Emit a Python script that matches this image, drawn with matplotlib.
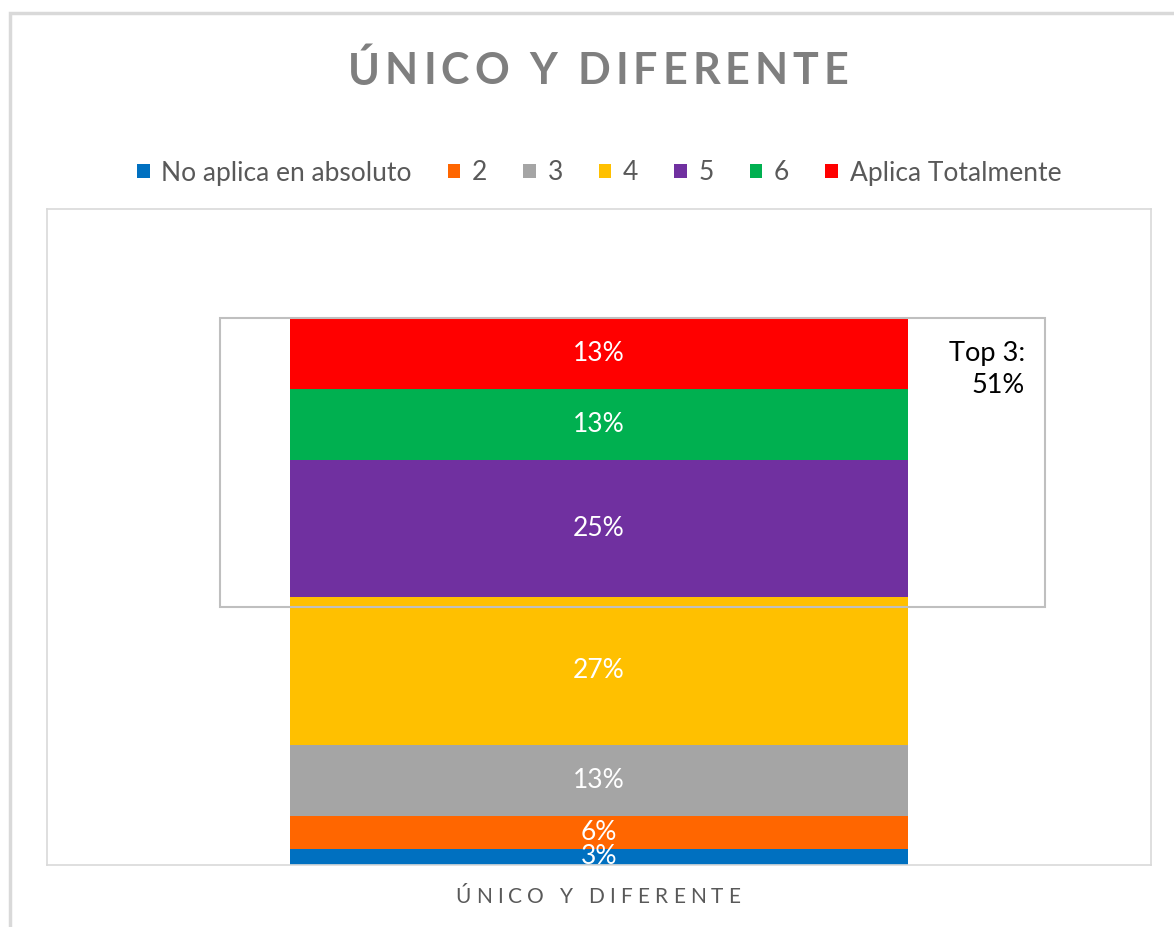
import matplotlib.pyplot as plt
from matplotlib.patches import Rectangle
import numpy as np

plt.rcParams['font.family'] = ['Lato', 'DejaVu Sans']

# data
categories = ["No aplica en absoluto", "2", "3", "4", "5", "6", "Aplica Totalmente"]
values = [3, 6, 13, 27, 25, 13, 13]
colors = ['#0070C0', '#FF6600', '#A5A5A5', '#FFC000', '#7030A0', '#00B050', '#FF0000']
bar_label = "ÚNICO Y DIFERENTE"
chart_title = "ÚNICO Y DIFERENTE"
top3_text = "Top 3:\n51%"

W, H = 1174, 927
fig = plt.figure(figsize=(W / 100, H / 100), dpi=100)
ax = fig.add_axes([47/W, 1 - 865/H, 1104/W, 656/H])
renderer = fig.canvas.get_renderer()


def spaced_text(xc, y, s, target_width, **kw):
    # draw text char by char to imitate the wide letter spacing
    def width(txt):
        t = fig.text(0, 0, txt, **kw)
        w = t.get_window_extent(renderer).width
        t.remove()
        return w
    full = width(s)
    gap = (target_width - full) / (len(s) - 1)
    x0 = xc - target_width / 2
    for i, ch in enumerate(s):
        if ch == ' ':
            continue
        left = width(s[:i + 1]) - width(ch) + i * gap
        fig.text((x0 + left) / W, 1 - y / H, ch, ha='left', va='center', **kw)


bottom = 0
for cat, val, col in zip(categories, values, colors):
    ax.bar(0, val, width=0.56, bottom=bottom, color=col, label=cat)
    ax.text(0, bottom + val / 2, f"{val}%", ha='center', va='center',
            color='white', fontsize=19, clip_on=True)
    bottom += val

ax.set_xlim(-0.5, 0.5)
ax.set_ylim(0, 120)
ax.set_xticks([])
ax.set_yticks([])
for s in ax.spines.values():
    s.set_color('#d9d9d9')
    s.set_linewidth(1.2)

# Top 3 box
box = Rectangle((0.1567, 0.393), 0.747, 0.441, transform=ax.transAxes,
                fill=False, edgecolor='#bfbfbf', linewidth=1.5, zorder=5)
ax.add_patch(box)
ax.text(0.886, 0.755, top3_text, transform=ax.transAxes, ha='right', va='center',
        multialignment='right', fontsize=19.5, color='black', linespacing=1.35)

# category label under the bar and chart title
spaced_text(598, 897, bar_label, 285, fontsize=15, color='#595959')
spaced_text(598, 71, chart_title, 500, fontsize=31, fontweight='bold', color='#7f7f7f')

# legend
handles, labels = ax.get_legend_handles_labels()
fig.legend(handles, labels, loc='center', bbox_to_anchor=(599/W, 1 - 173/H),
           ncol=7, frameon=False, fontsize=19, labelcolor='#595959',
           handlelength=0.48, handleheight=0.48, handletextpad=0.45, columnspacing=1.35)

# outer chart border
fig.patches.append(Rectangle((10/W, -0.1), 1.2, 1 - 13/H + 0.1,
                             transform=fig.transFigure, fill=False,
                             edgecolor='#d9d9d9', linewidth=2.5))

fig.savefig("out.png", dpi=100, facecolor='white')
